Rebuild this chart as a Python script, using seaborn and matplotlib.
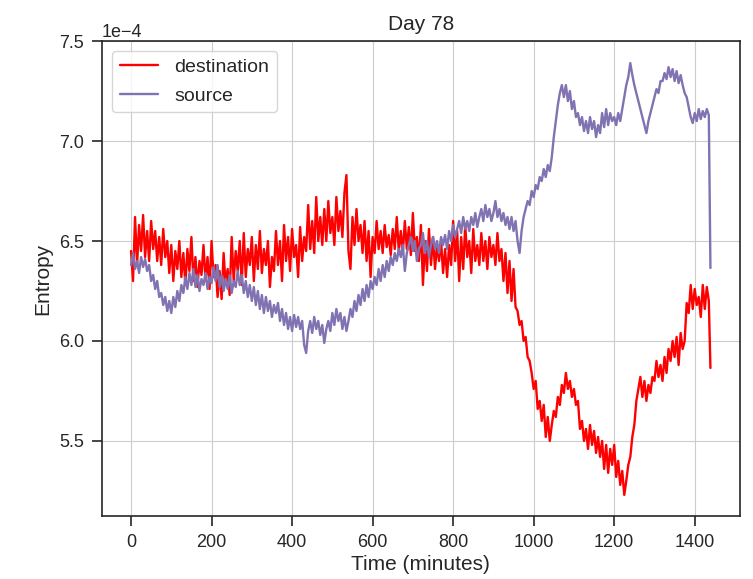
import numpy as np
import pandas as pd
import matplotlib
matplotlib.use("Agg")
import matplotlib.pyplot as plt
import seaborn as sns

# time samples (minutes): every 5 min, plus final minute
minutes = list(range(0, 1440, 5)) + [1439]

# entropy values in units of 1e-4
destination = [
    6.45, 6.30, 6.62, 6.38, 6.58, 6.45, 6.63, 6.42, 6.55, 6.40, 6.60, 6.46,
    6.55, 6.40, 6.52, 6.38, 6.56, 6.42, 6.50, 6.34, 6.48, 6.30, 6.45, 6.36,
    6.50, 6.32, 6.44, 6.28, 6.46, 6.35, 6.52, 6.30, 6.42, 6.27, 6.40, 6.33,
    6.48, 6.30, 6.42, 6.26, 6.50, 6.32, 6.38, 6.22, 6.35, 6.21, 6.44, 6.28,
    6.36, 6.23, 6.52, 6.30, 6.45, 6.35, 6.50, 6.28, 6.54, 6.32, 6.46, 6.38,
    6.52, 6.30, 6.48, 6.36, 6.55, 6.34, 6.46, 6.38, 6.50, 6.27, 6.42, 6.35,
    6.55, 6.38, 6.50, 6.30, 6.58, 6.40, 6.52, 6.35, 6.56, 6.42, 6.48, 6.32,
    6.57, 6.40, 6.52, 6.45, 6.68, 6.46, 6.60, 6.44, 6.72, 6.50, 6.62, 6.48,
    6.66, 6.50, 6.70, 6.54, 6.62, 6.48, 6.72, 6.55, 6.65, 6.52, 6.74, 6.83,
    6.45, 6.36, 6.62, 6.48, 6.66, 6.50, 6.58, 6.44, 6.60, 6.40, 6.55, 6.32,
    6.52, 6.44, 6.60, 6.46, 6.55, 6.44, 6.58, 6.47, 6.53, 6.43, 6.56, 6.46,
    6.62, 6.45, 6.55, 6.44, 6.60, 6.46, 6.57, 6.43, 6.64, 6.45, 6.52, 6.40,
    6.58, 6.28, 6.50, 6.35, 6.56, 6.38, 6.52, 6.36, 6.48, 6.40, 6.50, 6.34,
    6.46, 6.32, 6.48, 6.38, 6.60, 6.40, 6.55, 6.30, 6.52, 6.36, 6.58, 6.42,
    6.50, 6.34, 6.56, 6.40, 6.48, 6.38, 6.54, 6.40, 6.50, 6.36, 6.52, 6.42,
    6.48, 6.38, 6.54, 6.40, 6.46, 6.30, 6.44, 6.24, 6.40, 6.20, 6.36, 6.17,
    6.15, 6.08, 6.10, 6.00, 6.02, 5.92, 5.90, 5.84, 5.76, 5.80, 5.66, 5.70,
    5.60, 5.68, 5.52, 5.62, 5.50, 5.58, 5.65, 5.62, 5.72, 5.68, 5.78, 5.74,
    5.84, 5.76, 5.80, 5.72, 5.76, 5.68, 5.70, 5.56, 5.60, 5.50, 5.56, 5.46,
    5.58, 5.48, 5.55, 5.44, 5.52, 5.42, 5.50, 5.36, 5.48, 5.34, 5.46, 5.38,
    5.48, 5.32, 5.40, 5.28, 5.35, 5.23, 5.30, 5.38, 5.42, 5.52, 5.58, 5.70,
    5.76, 5.82, 5.72, 5.80, 5.70, 5.78, 5.74, 5.82, 5.80, 5.90, 5.82, 5.88,
    5.80, 5.92, 5.84, 5.96, 5.90, 6.00, 5.92, 6.02, 5.88, 6.04, 5.96, 6.00,
    6.19, 6.14, 6.28, 6.16, 6.26, 6.18, 6.22, 6.12, 6.28, 6.16, 6.27, 6.20,
    5.865,
]

source = [
    6.38, 6.44, 6.36, 6.40, 6.34, 6.42, 6.37, 6.41, 6.35, 6.38, 6.30, 6.33,
    6.26, 6.30, 6.22, 6.24, 6.18, 6.22, 6.15, 6.20, 6.14, 6.22, 6.17, 6.25,
    6.20, 6.28, 6.24, 6.32, 6.26, 6.34, 6.28, 6.36, 6.27, 6.33, 6.25, 6.31,
    6.28, 6.34, 6.26, 6.32, 6.29, 6.37, 6.30, 6.38, 6.27, 6.33, 6.25, 6.31,
    6.26, 6.33, 6.24, 6.30, 6.27, 6.35, 6.28, 6.33, 6.24, 6.30, 6.22, 6.28,
    6.20, 6.27, 6.18, 6.25, 6.16, 6.23, 6.14, 6.22, 6.15, 6.20, 6.12, 6.18,
    6.14, 6.19, 6.10, 6.16, 6.08, 6.14, 6.06, 6.12, 6.05, 6.13, 6.07, 6.12,
    6.06, 6.10, 5.98, 5.94, 6.05, 6.10, 6.04, 6.12, 6.06, 6.10, 6.03, 6.08,
    5.99, 6.06, 6.10, 6.05, 6.14, 6.08, 6.16, 6.10, 6.14, 6.06, 6.12, 6.05,
    6.10, 6.16, 6.12, 6.20, 6.15, 6.23, 6.18, 6.26, 6.20, 6.28, 6.22, 6.30,
    6.26, 6.32, 6.28, 6.36, 6.30, 6.38, 6.32, 6.40, 6.35, 6.42, 6.38, 6.44,
    6.40, 6.46, 6.42, 6.48, 6.35, 6.44, 6.48, 6.52, 6.45, 6.50, 6.40, 6.46,
    6.48, 6.54, 6.44, 6.50, 6.42, 6.48, 6.52, 6.46, 6.50, 6.44, 6.52, 6.48,
    6.53, 6.46, 6.55, 6.50, 6.58, 6.52, 6.56, 6.60, 6.54, 6.62, 6.56, 6.60,
    6.55, 6.62, 6.58, 6.64, 6.57, 6.62, 6.66, 6.60, 6.68, 6.62, 6.66, 6.60,
    6.64, 6.70, 6.62, 6.66, 6.60, 6.64, 6.58, 6.62, 6.56, 6.62, 6.55, 6.60,
    6.50, 6.44, 6.55, 6.62, 6.66, 6.70, 6.68, 6.75, 6.72, 6.78, 6.76, 6.82,
    6.80, 6.86, 6.82, 6.88, 6.85, 6.92, 7.02, 7.10, 7.18, 7.24, 7.28, 7.22,
    7.28, 7.20, 7.25, 7.16, 7.20, 7.12, 7.14, 7.08, 7.12, 7.05, 7.10, 7.04,
    7.12, 7.06, 7.10, 7.02, 7.08, 7.04, 7.14, 7.07, 7.16, 7.08, 7.14, 7.10,
    7.12, 7.08, 7.14, 7.10, 7.16, 7.22, 7.28, 7.32, 7.39, 7.33, 7.28, 7.24,
    7.20, 7.16, 7.12, 7.08, 7.04, 7.10, 7.14, 7.18, 7.22, 7.26, 7.24, 7.30,
    7.30, 7.34, 7.31, 7.37, 7.32, 7.36, 7.30, 7.35, 7.29, 7.33, 7.28, 7.24,
    7.22, 7.17, 7.12, 7.09, 7.14, 7.10, 7.16, 7.11, 7.15, 7.12, 7.16, 7.13,
    6.365,
]

series_names = ["destination", "source"]
colors = {"destination": "#ff0000", "source": "#8172B2"}
scale = 1e-4

df = pd.DataFrame({
    "Time (minutes)": minutes * 2,
    "Entropy": [v * scale for v in destination] + [v * scale for v in source],
    "series": ["destination"] * len(destination) + ["source"] * len(source),
})

sns.set_style("ticks", {"axes.grid": True, "grid.color": "#cccccc",
                        "axes.edgecolor": "#262626"})
plt.rcParams["font.family"] = ["Liberation Sans", "DejaVu Sans"]
plt.rcParams["axes.unicode_minus"] = True

fig = plt.figure(figsize=(7.53, 5.79), dpi=100)
ax = fig.add_axes([0.1355, 0.109, 0.847, 0.820])

sns.lineplot(data=df, x="Time (minutes)", y="Entropy", hue="series",
             hue_order=series_names, palette=colors, linewidth=1.7,
             estimator=None, sort=False, ax=ax)

ax.set_ylim(5.125e-4, 7.5e-4)
ax.set_xlim(-72, 1512)
ax.set_title("Day 78", fontsize=15, pad=8)
ax.set_xlabel("Time (minutes)", fontsize=15, labelpad=3)
ax.set_ylabel("Entropy", fontsize=15, labelpad=5)
ax.tick_params(labelsize=13, length=7, width=1.2, pad=6)
ax.ticklabel_format(axis="y", style="sci", scilimits=(0, 0))
ax.yaxis.get_offset_text().set_fontsize(13)
for s in ax.spines.values():
    s.set_linewidth(1.2)

ax.legend(loc="upper left", fontsize=14, frameon=True, title=None,
          labelspacing=0.55)

fig.savefig("out.png", dpi=100)
